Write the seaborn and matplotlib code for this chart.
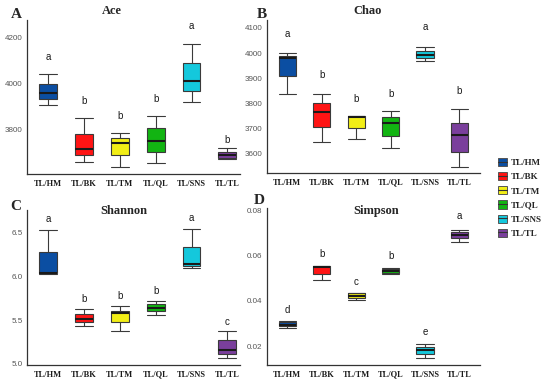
import numpy as np
import pandas as pd
import matplotlib
matplotlib.use("Agg")
import matplotlib.pyplot as plt
import seaborn as sns
from matplotlib.patches import Patch
from matplotlib.lines import Line2D
from matplotlib.ticker import FixedLocator, FormatStrFormatter

# groups and colours
groups = ["TL/HM", "TL/BK", "TL/TM", "TL/QL", "TL/SNS", "TL/TL"]
colors = ["#0b4ea2", "#ff1414", "#f2ee16", "#12b412", "#14c8dc", "#7a3f9c"]

# five-number summaries: min, q1, median, q3, max
ace = [[3910, 3936, 3962, 4001, 4042],
       [3660, 3690, 3719, 3783, 3852],
       [3638, 3690, 3743, 3767, 3789],
       [3658, 3706, 3754, 3808, 3862],
       [3920, 3968, 4015, 4093, 4172],
       [3676, 3677, 3692, 3703, 3721]]
chao = [[3836, 3907, 3981, 3988, 4000],
        [3643, 3704, 3763, 3800, 3838],
        [3655, 3700, 3745, 3747, 3749],
        [3622, 3670, 3719, 3743, 3767],
        [3968, 3980, 3992, 4008, 4024],
        [3544, 3606, 3672, 3722, 3775]]
shannon = [[6.03, 6.035, 6.04, 6.283, 6.533],
           [5.433, 5.478, 5.516, 5.565, 5.633],
           [5.376, 5.482, 5.577, 5.61, 5.66],
           [5.558, 5.603, 5.641, 5.686, 5.724],
           [6.094, 6.121, 6.147, 6.34, 6.54],
           [5.066, 5.112, 5.16, 5.27, 5.376]]
simpson = [[0.0280, 0.0289, 0.0295, 0.0307, 0.0310],
           [0.0492, 0.0520, 0.0549, 0.0555, 0.0556],
           [0.0406, 0.0415, 0.0423, 0.0433, 0.0435],
           [0.0520, 0.0523, 0.0534, 0.0541, 0.0544],
           [0.0145, 0.0163, 0.0184, 0.0195, 0.0211],
           [0.0662, 0.0680, 0.0694, 0.0705, 0.0715]]

# significance letters and their heights
ace_letters = ["a", "b", "b", "b", "a", "b"]
ace_letter_y = [4118, 3924, 3862, 3935, 4252, 3757]
chao_letters = ["a", "b", "b", "b", "a", "b"]
chao_letter_y = [4077, 3912, 3818, 3838, 4103, 3849]
shannon_letters = ["a", "b", "b", "b", "a", "c"]
shannon_letter_y = [6.66, 5.743, 5.78, 5.838, 6.67, 5.482]
simpson_letters = ["d", "b", "c", "b", "e", "a"]
simpson_letter_y = [0.0358, 0.0610, 0.0486, 0.0600, 0.0260, 0.0775]

ace_ticks = [3800, 4000, 4200]
chao_ticks = [3600, 3700, 3800, 3900, 4000, 4100]
shannon_ticks = [5.0, 5.5, 6.0, 6.5]
simpson_ticks = [0.02, 0.04, 0.06, 0.08]

serif = ["Liberation Serif", "DejaVu Serif"]
sans = ["Liberation Sans", "DejaVu Sans"]

sns.set_style("white")
fig = plt.figure(figsize=(5.5, 3.84), dpi=100)

panels = [
    ("Ace", "A", ace, ace_letters, ace_letter_y, ace_ticks, "%d",
     [0.049, 0.547, 0.387, 0.401], (3609, 4278), (-0.6, 5.35), (112, 11), (16, 15)),
    ("Chao", "B", chao, chao_letters, chao_letter_y, chao_ticks, "%d",
     [0.485, 0.549, 0.388, 0.399], (3520, 4132), (-0.6, 5.6), (368, 11), (262, 15)),
    ("Shannon", "C", shannon, shannon_letters, shannon_letter_y, shannon_ticks, "%.1f",
     [0.049, 0.049, 0.387, 0.404], (4.985, 6.76), (-0.6, 5.35), (124, 211), (16, 206)),
    ("Simpson", "D", simpson, simpson_letters, simpson_letter_y, simpson_ticks, "%.2f",
     [0.485, 0.049, 0.388, 0.41], (0.0115, 0.0813), (-0.6, 5.6), (376, 211), (259, 201)),
]

for title, tag, summ, letters, letter_y, ticks, fmt, rect, ylim, xlim, tpos, lpos in panels:
    rows = []
    for g, vals in zip(groups, summ):
        for v in vals:
            rows.append({"group": g, "value": v})
    df = pd.DataFrame(rows)

    ax = fig.add_axes(rect)
    sns.boxplot(data=df, x="group", y="value", hue="group", order=groups,
                hue_order=groups, palette=colors, saturation=1, width=0.5,
                whis=np.inf, linecolor="#3a3a3a", linewidth=0.8, legend=False,
                ax=ax, medianprops={"color": "#1a1a1a", "linewidth": 1.5})
    # caps as wide as the boxes
    for line in ax.lines:
        xd = line.get_xdata()
        yd = line.get_ydata()
        if len(xd) == 2 and yd[0] == yd[1] and abs(xd[1] - xd[0]) < 0.3:
            c = (xd[0] + xd[1]) / 2
            line.set_xdata([c - 0.25, c + 0.25])

    for i, (lt, ly) in enumerate(zip(letters, letter_y)):
        ax.text(i, ly, lt, ha="center", va="center", fontsize=7,
                family=sans, color="#1a1a1a")

    ax.set_xlim(*xlim)
    ax.set_ylim(*ylim)
    ax.yaxis.set_major_locator(FixedLocator(ticks))
    ax.yaxis.set_major_formatter(FormatStrFormatter(fmt))
    ax.set_xlabel("")
    ax.set_ylabel("")
    sns.despine(ax=ax)
    for s in ["left", "bottom"]:
        ax.spines[s].set_color("#333333")
        ax.spines[s].set_linewidth(0.9)
    ax.tick_params(axis="y", length=2, width=0.6, color="#444444", pad=1,
                   labelsize=5.8, labelcolor="#555555")
    ax.tick_params(axis="x", length=2, width=0.6, color="#444444", pad=2)
    for lab in ax.get_yticklabels():
        lab.set_family(sans)
    for lab in ax.get_xticklabels():
        lab.set_family(serif)
        lab.set_fontweight("bold")
        lab.set_fontsize(6)
        lab.set_color("#1a1a1a")

    fig.text(tpos[0] / 550, 1 - tpos[1] / 384, title, ha="center", va="center",
             family=serif, fontweight="bold", fontsize=9)
    fig.text(lpos[0] / 550, 1 - lpos[1] / 384, tag, ha="center", va="center",
             family=serif, fontweight="bold", fontsize=11)

handles = []
for c in colors:
    handles.append((Patch(facecolor=c, edgecolor="#555555", linewidth=0.7),
                    Line2D([], [], color="#333333", linewidth=0.8)))
fig.legend(handles, groups, loc="center left",
           bbox_to_anchor=(492 / 550, 1 - 198 / 384), frameon=False,
           prop={"family": serif, "weight": "bold", "size": 6.5},
           handlelength=1.0, handleheight=1.0, handletextpad=0.4,
           labelspacing=0.55, borderpad=0.2)

fig.savefig("out.png", dpi=100)
